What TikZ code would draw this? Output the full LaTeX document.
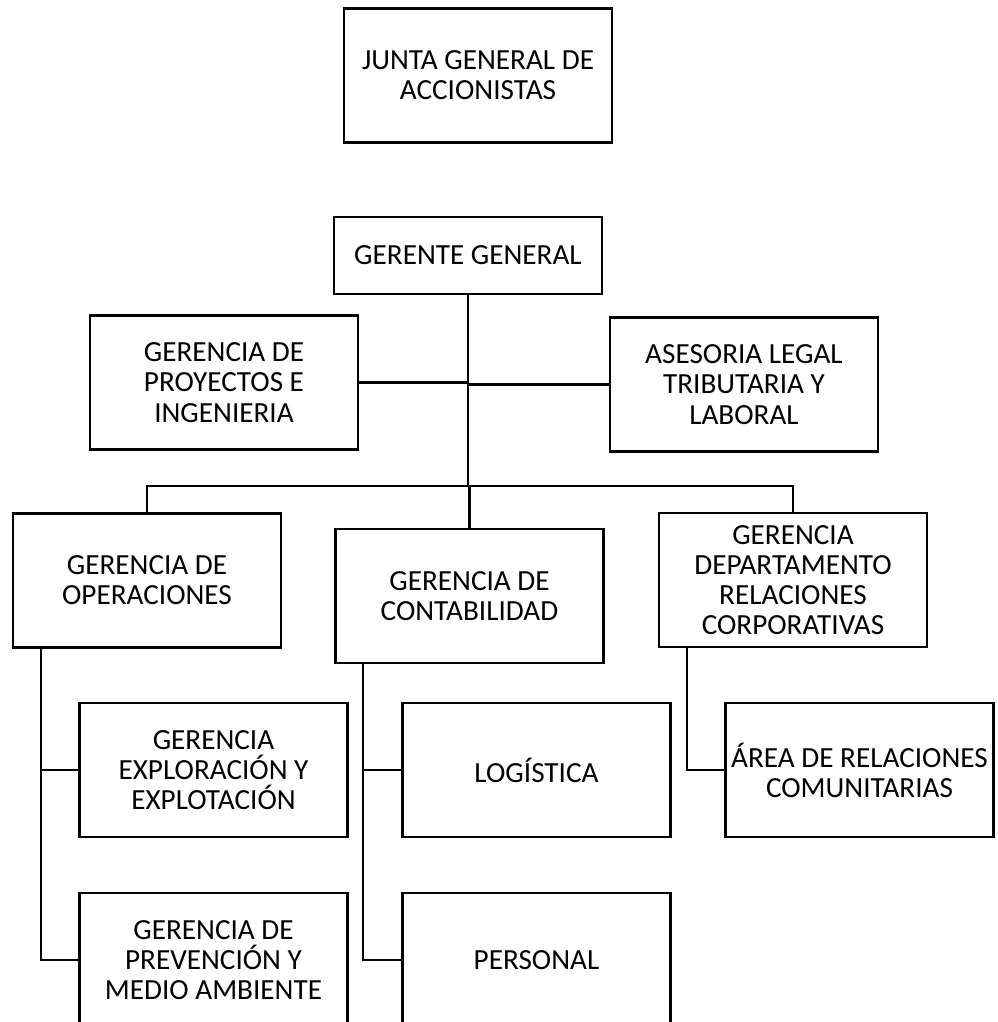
\documentclass[tikz,border=0pt]{standalone}
\usepackage{fontspec}
\setmainfont{Carlito}

\begin{document}
\begin{tikzpicture}[x=0.75pt, y=-0.75pt, line width=1.6pt,
    box/.style={draw, align=center, inner sep=0pt, minimum width=201pt, minimum height=100.5pt,
        font=\fontsize{21.9pt}{22.6pt}\selectfont},
    flat/.style={box, minimum height=57.75pt}]
    \useasboundingbox (0, 0) rectangle (998, 1022);

    \node at (478, 75.5) [box] (junta) {JUNTA GENERAL DE\\ACCIONISTAS};
    \node at (468, 255.5) [flat] (ger) {GERENTE GENERAL};
    \node at (224, 382.5) [box] (proy) {GERENCIA DE\\PROYECTOS E\\INGENIERIA};
    \node at (744, 384.5) [box] (ases) {ASESORIA LEGAL\\TRIBUTARIA Y\\LABORAL};

    \node at (147, 580.5) [box] (oper) {GERENCIA DE\\OPERACIONES};
    \node at (469.5, 596) [box] (cont) {GERENCIA DE\\CONTABILIDAD};
    \node at (793, 580) [box] (depto) {GERENCIA\\DEPARTAMENTO\\RELACIONES\\CORPORATIVAS};

    \node at (213.5, 770) [box] (explo) {GERENCIA\\EXPLORACIÓN Y\\EXPLOTACIÓN};
    \node at (536.5, 770) [box] (logis) {LOGÍSTICA};
    \node at (859.5, 770) [box] (area) {ÁREA DE RELACIONES\\COMUNITARIAS};
    \node at (213.5, 960) [box] (prev) {GERENCIA DE\\PREVENCIÓN Y\\MEDIO AMBIENTE};
    \node at (536.5, 960) [box] (pers) {PERSONAL};

    % bus and trunks
    \coordinate (bus) at (0, 486);
    \coordinate (tO) at (41, 0);
    \coordinate (tC) at (363, 0);
    \coordinate (tD) at (687, 0);

    \draw (ger.south) -- (ger.south |- bus);
    \draw (proy.east) -- (proy.east -| ger.south);
    \draw (ases.west) -- (ases.west -| ger.south);
    \draw (oper.north) -- (oper.north |- bus) -- (depto.north |- bus) -- (depto.north);
    \draw (cont.north) -- (cont.north |- bus);

    \draw (tO |- oper.south) |- (explo.west);
    \draw (tO |- oper.south) |- (prev.west);
    \draw (tC |- cont.south) |- (logis.west);
    \draw (tC |- cont.south) |- (pers.west);
    \draw (tD |- depto.south) |- (area.west);
\end{tikzpicture}
\end{document}
